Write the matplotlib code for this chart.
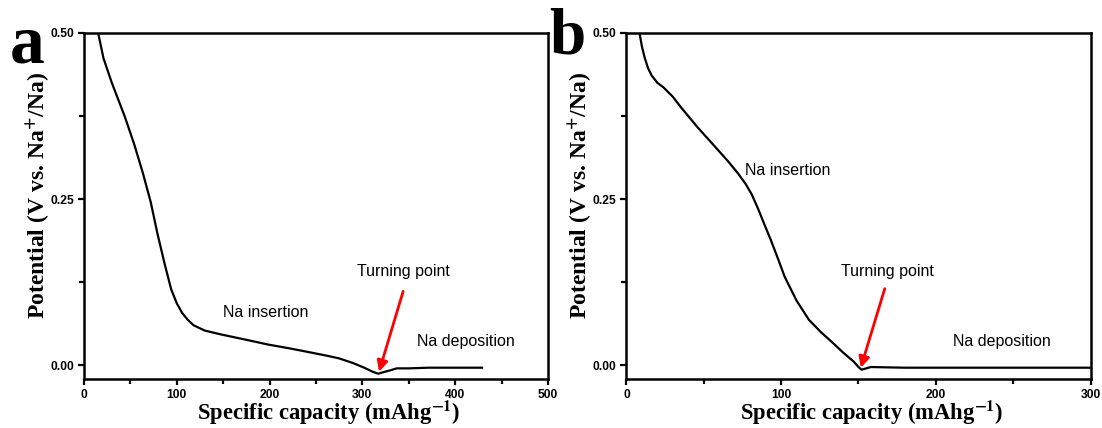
import matplotlib
matplotlib.use("Agg")
import matplotlib.pyplot as plt
from matplotlib.ticker import MultipleLocator

plt.rcParams['mathtext.fontset'] = 'stix'

# discharge curve, panel a
cap_a = [15.3, 21, 30, 44, 54, 63.5, 72, 79, 87, 94, 100, 106, 112, 118, 130, 148,
         175, 198, 222, 244, 262, 275, 290, 302, 311, 317, 322, 330, 337, 350, 371, 400, 429]
pot_a = [0.500, 0.462, 0.425, 0.374, 0.333, 0.289, 0.245, 0.199, 0.152, 0.114, 0.093,
         0.078, 0.068, 0.060, 0.052, 0.046, 0.038, 0.031, 0.025, 0.019, 0.014, 0.010,
         0.003, -0.004, -0.010, -0.013, -0.011, -0.008, -0.005, -0.005, -0.004, -0.004, -0.004]

# discharge curve, panel b
cap_b = [8.5, 10, 11.8, 14, 16.3, 20, 24, 30, 35.3, 46, 57.6, 66, 72, 77, 81, 85, 89,
         93.4, 98, 102.3, 110, 118, 126, 133.6, 140, 147, 150, 152, 155, 158, 180, 220,
         260, 300]
pot_b = [0.500, 0.480, 0.463, 0.447, 0.436, 0.425, 0.418, 0.404, 0.388, 0.358, 0.328,
         0.306, 0.289, 0.273, 0.257, 0.236, 0.213, 0.188, 0.160, 0.133, 0.097, 0.068,
         0.049, 0.033, 0.019, 0.005, -0.003, -0.007, -0.005, -0.003, -0.004, -0.004,
         -0.004, -0.004]

panels = [
    dict(x=cap_a, y=pot_a, xmax=500, letter='a', rect=[0.0762, 0.1145, 0.4210, 0.8085],
         letter_pos=(0.040, 0.853), letter_size=50,
         insertion=(196, 0.079), turning=(344, 0.141), deposition=(412, 0.036),
         arrow_from=(344, 0.111), arrow_to=(318, -0.010)),
    dict(x=cap_b, y=pot_b, xmax=300, letter='b', rect=[0.5684, 0.1145, 0.4212, 0.8085],
         letter_pos=(0.531, 0.876), letter_size=47,
         insertion=(104.5, 0.293), turning=(169, 0.141), deposition=(243, 0.036),
         arrow_from=(167, 0.115), arrow_to=(151.5, -0.004)),
]

fig = plt.figure(figsize=(11.02, 4.28), dpi=100)

serif = 'Liberation Serif'
sans = 'Liberation Sans'

for p in panels:
    ax = fig.add_axes(p['rect'])
    ax.plot(p['x'], p['y'], color='black', lw=1.6)
    ax.set_xlim(0, p['xmax'])
    ax.set_ylim(-0.021, 0.5)

    ax.xaxis.set_major_locator(MultipleLocator(100))
    ax.xaxis.set_minor_locator(MultipleLocator(50))
    ax.yaxis.set_major_locator(MultipleLocator(0.25))
    ax.yaxis.set_minor_locator(MultipleLocator(0.125))
    ax.tick_params(which='both', direction='out', top=False, right=False, width=1.6)
    ax.tick_params(which='major', length=4.5)
    ax.tick_params(which='minor', length=3.5)
    ax.tick_params(axis='both', pad=2.5)
    ax.set_yticklabels([f'{v:.2f}' for v in ax.get_yticks()])
    for lab in ax.get_xticklabels() + ax.get_yticklabels():
        lab.set_fontfamily(sans)
        lab.set_fontweight('bold')
        lab.set_fontsize(8.7)
    for s in ax.spines.values():
        s.set_linewidth(1.8)

    ax.set_xlabel(r'Specific capacity (mAhg$^{\mathbf{-1}}$)', fontfamily=serif,
                  fontweight='bold', fontsize=16.3, va='baseline')
    ax.xaxis.set_label_coords(0.528, -0.118)
    ax.set_ylabel(r'Potential (V vs. Na$^{\mathbf{+}}$/Na)', fontfamily=serif,
                  fontweight='bold', fontsize=17, va='center')
    ax.yaxis.set_label_coords(-0.1, 0.53)

    ax.text(*p['insertion'], 'Na insertion', fontfamily=sans, fontsize=11.5,
            ha='center', va='center')
    ax.text(*p['turning'], 'Turning point', fontfamily=sans, fontsize=11.5,
            ha='center', va='center')
    ax.text(*p['deposition'], 'Na deposition', fontfamily=sans, fontsize=11.5,
            ha='center', va='center')
    ax.annotate('', xy=p['arrow_to'], xytext=p['arrow_from'],
                arrowprops=dict(arrowstyle='-|>', color='red', lw=2,
                                mutation_scale=16, shrinkA=0, shrinkB=0))

    fig.text(*p['letter_pos'], p['letter'], fontfamily=serif, fontweight='bold',
             fontsize=p['letter_size'], ha='right', va='baseline')

fig.savefig('out.png', dpi=100)
